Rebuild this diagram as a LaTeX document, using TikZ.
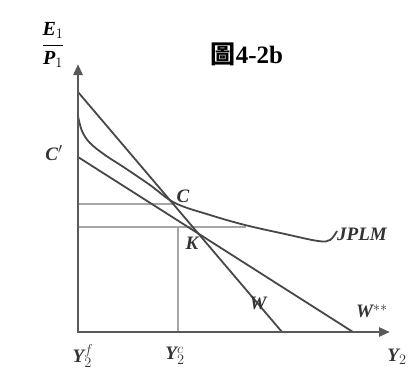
\documentclass[tikz,border=0pt]{standalone}
\usepackage{fontspec}
\setmainfont{Liberation Serif}
\newfontfamily\cjk{Noto Sans CJK TC}
\usetikzlibrary{arrows.meta}
\begin{document}
\begin{tikzpicture}[x=1pt,y=-1pt,
  axis/.style={line width=2.6pt,draw=black!65,line join=miter,
    {Triangle[length=11pt,width=9pt]}-{Triangle[length=11pt,width=9pt]}},
  crv/.style={line width=1.8pt,draw=black!72},
  guide/.style={line width=1.3pt,draw=black!35},
  lab/.style={font=\fontsize{19}{21}\selectfont\bfseries\itshape,text=black!80,inner sep=0pt}]
\useasboundingbox (0,0) rectangle (416,378);
% coordinates
\coordinate (O) at (78,332);
\coordinate (ytop) at (78,64);
\coordinate (xend) at (390,332);
\coordinate (Wtop) at (78,92);
\coordinate (Wbot) at (282,332);
\coordinate (Cp) at (78,157);
\coordinate (Wsbot) at (353,332);
\coordinate (Cpt) at (175,204);
\coordinate (g1) at (78,204);
\coordinate (g2) at (78,227);
\coordinate (g3) at (246,227);
\coordinate (g4) at (178,227);
\coordinate (g5) at (178,332);
% guides
\draw[guide] (g1) -- (Cpt);
\draw[guide] (g2) -- (g3);
\draw[guide] (g4) -- (g5);
% lines
\draw[crv] (Wtop) -- (Wbot);
\draw[crv] (Cp) -- (Wsbot);
\draw[crv] plot[smooth,tension=0.6] coordinates {(78,116) (82,131) (90,143) (105,155) (125,168) (150,185) (175,203) (210,215) (245,225) (285,234) (318,241) (330,240) (337,231)};
% axes
\draw[axis] (ytop) -- (O) -- (xend);
% title
\node (title) at (247,54) {\fontsize{25}{27}\selectfont{\cjk\bfseries 圖}\bfseries 4-2b};
% axis labels
\node (ylab) at (53,45) {\fontsize{20}{22}\selectfont$\displaystyle\frac{\textbf{\textit{E}}_1}{\textbf{\textit{P}}_1}$};
\node[lab] (lCp) at (54,153) {C$'$};
\node[lab] (lC) at (183,196) {C};
\node[lab] (lK) at (192,243) {K};
\node[lab] (lJ) at (362,234) {JPLM};
\node[lab] (lW) at (258,303) {W};
\node[lab] (lWs) at (372,311) {W$^{**}$};
\node[lab] (lYf) at (83,356) {Y$_2^f$};
\node[lab] (lYc) at (175,356) {Y$_2^c$};
\node[lab] (lY) at (397,357) {Y$_2$};
\end{tikzpicture}
\end{document}
